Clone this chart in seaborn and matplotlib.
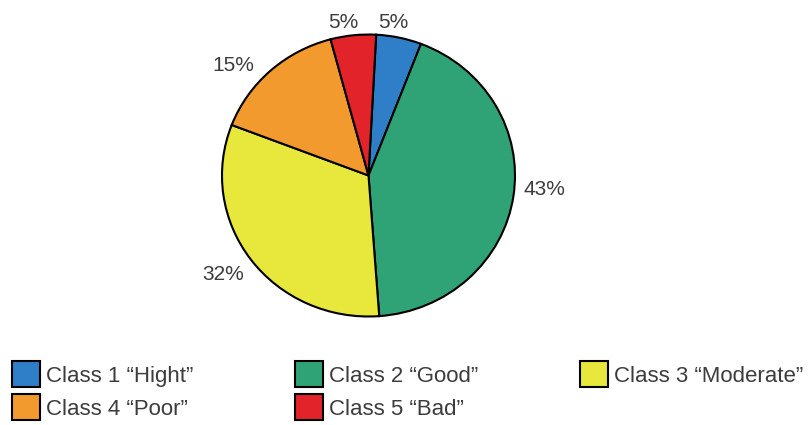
import matplotlib
matplotlib.use("Agg")
import matplotlib.pyplot as plt
from matplotlib.patches import Patch
import numpy as np
import seaborn as sns

# Share of water bodies per ecological status class
classes = ["Class 1 \u201cHight\u201d", "Class 2 \u201cGood\u201d", "Class 3 \u201cModerate\u201d",
           "Class 4 \u201cPoor\u201d", "Class 5 \u201cBad\u201d"]
shares = [5, 43, 32, 15, 5]
colors = ["#2f7fc8", "#2fa276", "#e8e83c", "#f39a2e", "#e2232a"]

sns.set_theme(style="white")
plt.rcParams["font.family"] = ["Liberation Sans", "DejaVu Sans"]

fig = plt.figure(figsize=(8.09, 4.25), dpi=100)
ax = fig.add_axes([0.2744, 0.2553, 0.3622, 0.6635])

palette = sns.color_palette(colors)
pct_labels = [f"{v}%" for v in shares]
wedges, texts = ax.pie(
    shares,
    labels=pct_labels,
    colors=palette,
    startangle=87,
    counterclock=False,
    labeldistance=1.1,
    wedgeprops=dict(edgecolor="black", linewidth=1.5),
    textprops=dict(fontsize=15, color="#3c3c3c"),
    frame=False,
)
ax.set_aspect("auto")
ax.set_xlim(-1, 1)
ax.set_ylim(-1, 1)

# place each percentage just outside its wedge, slightly ahead of the mid-angle
for w, t in zip(wedges, texts):
    t.set_clip_on(False)
    mid = (0.5 * (w.theta1 + w.theta2) + 3) % 360
    if 60 < mid < 120:
        ha, r = "center", 1.1
    elif 90 <= mid < 270:
        ha, r = "right", 1.1
    else:
        ha, r = "left", 1.06
    t.set_horizontalalignment(ha)
    t.set_position((r * np.cos(np.radians(mid)), r * np.sin(np.radians(mid))))

# legend filled row by row: 1 2 3 / 4 5
order = [0, 3, 1, 4, 2]
handles = [Patch(facecolor=palette[i], edgecolor="black", linewidth=1.5) for i in order]
labels = [classes[i] for i in order]
fig.legend(
    handles, labels,
    loc="upper left",
    bbox_to_anchor=(12 / 809, 1 - 361 / 425),
    ncol=3,
    frameon=False,
    fontsize=16,
    handlelength=1.25,
    handleheight=1.45,
    handletextpad=0.3,
    columnspacing=4.55,
    labelspacing=0.3,
    borderaxespad=0,
    borderpad=0,
    labelcolor="#3c3c3c",
)

fig.savefig("out.png", dpi=100, facecolor="white")
